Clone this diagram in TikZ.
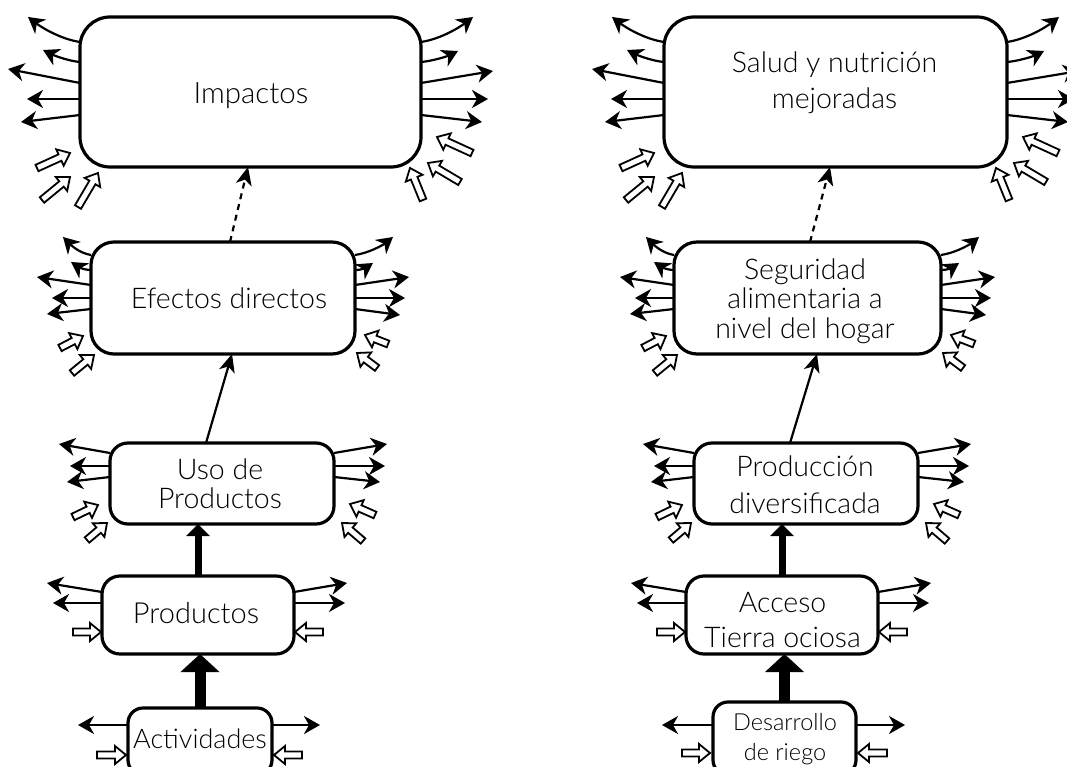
\documentclass[tikz,border=0pt]{standalone}
\usepackage{fontspec}
\setmainfont{Lato Light}
\usetikzlibrary{arrows.meta,calc}
\pgfdeclarelayer{bg}
\pgfsetlayers{bg,main}
\tikzset{
  box/.style={draw, line width=3.2pt, fill=white, inner sep=0pt, outer sep=0pt, rounded corners=#1},
  outa/.style={line width=2.2pt, -{Stealth[length=16pt,width=18pt,inset=5pt]}},
  holl/.style={draw, line width=1.8pt, fill=white, line join=miter},
  thickA/.style={line width=11pt, -{Triangle[length=18pt,width=38pt]}},
  thickB/.style={line width=7pt, -{Triangle[length=12pt,width=23pt]}},
  thinA/.style={line width=2.2pt, -{Stealth[length=18pt,width=16pt,inset=5pt]}},
  dashA/.style={thinA, dash pattern=on 6pt off 5pt},
  lbl/.style={inner sep=0pt, outer sep=0pt, align=center, text=black, text depth=0pt},
  fs/.style 2 args={font=\fontsize{#1}{#2}\selectfont},
}
\newcommand\oarr[3]{\draw[outa] ($(#1)+(#2)$) -- ++(#3);}
\newcommand\carr[5]{%
  \path ($(#1)+(#2)$) coordinate (cs) ++(#3) coordinate (ce);
  \draw[outa] (cs) .. controls ($(cs)+(#4)$) and ($(ce)+(#5)$) .. (ce);}
\newcommand\harr[3]{%
  \path ($(#1)+(#2)$) coordinate (hT) ($(#1)+(#3)$) coordinate (hH);
  \path ($(hH)!11pt!(hT)$) coordinate (hS);
  \draw[holl] ($(hT)!3.5pt!90:(hH)$) -- ($(hS)!3.5pt!-90:(hT)$) -- ($(hS)!9pt!-90:(hT)$) -- (hH)
     -- ($(hS)!9pt!90:(hT)$) -- ($(hS)!3.5pt!90:(hT)$) -- ($(hT)!3.5pt!-90:(hH)$) -- cycle;}
% decoration sets
\newcommand\decoBig[1]{%
  \carr{#1.north west}{0,25}{-52,-25}{-20,-3}{13,10}
  \carr{#1.north west}{0,45}{-37,-12}{-12,-1}{10,5}
  \oarr{#1.north west}{0,66}{-72,-14}
  \oarr{#1.north west}{0,82}{-53,0}
  \oarr{#1.north west}{0,98}{-59,7}
  \carr{#1.north east}{0,25}{52,-25}{20,-3}{-13,10}
  \carr{#1.north east}{0,45}{37,-11}{12,-1}{-10,5}
  \oarr{#1.north east}{0,66}{72,-12}
  \oarr{#1.north east}{0,82}{67,0}
  \oarr{#1.north east}{0,98}{61,7}
  \harr{#1.south west}{-43,1}{-10,-14}
  \harr{#1.south west}{-38,33}{-10,10}
  \harr{#1.south west}{-2,40}{18,6}
  \harr{#1.south east}{51,-14}{16,-30}
  \harr{#1.south east}{39,15}{7,-4}
  \harr{#1.south east}{2,33}{-11,1}}
\newcommand\decoMid[1]{%
  \carr{#1.north west}{0,13}{-28,-18}{-12,-2}{8,8}
  \carr{#1.north west}{0,28}{-20,-8}{-8,0}{6,4}
  \oarr{#1.north west}{0,43}{-54,-8}
  \oarr{#1.north west}{0,56}{-39,0}
  \oarr{#1.north west}{0,67}{-44,5}
  \carr{#1.north east}{0,13}{38,-18}{14,-2}{-10,8}
  \carr{#1.north east}{0,28}{18,-7}{8,0}{-6,4}
  \oarr{#1.north east}{0,43}{54,-8}
  \oarr{#1.north east}{0,56}{50,0}
  \oarr{#1.north east}{0,67}{45,6}
  \harr{#1.south west}{-31,-6}{-8,-18}
  \harr{#1.south west}{-19,19}{3,1}
  \harr{#1.south east}{33,-10}{10,-19}
  \harr{#1.south east}{22,14}{2,-1}}
\newcommand\decoUse[1]{%
  \oarr{#1.north west}{0,10}{-51,-9}
  \oarr{#1.north west}{0,23}{-40,0}
  \oarr{#1.north west}{0,34}{-43,5}
  \oarr{#1.north east}{0,10}{53,-9}
  \oarr{#1.north east}{0,23}{51,0}
  \oarr{#1.north east}{0,34}{46,5}
  \harr{#1.south west}{-37,-7}{-12,-19}
  \harr{#1.south west}{-23,16}{-3,-1}
  \harr{#1.south east}{41,-9}{16,-20}
  \harr{#1.south east}{29,17}{8,-1}}
\newcommand\decoProd[1]{%
  \oarr{#1.north west}{0,16}{-55,-9}
  \oarr{#1.north west}{0,27}{-49,0}
  \oarr{#1.north east}{0,16}{53,-9}
  \oarr{#1.north east}{0,27}{51,0}
  \harr{#1.north west}{-29,56}{-1,56}
  \harr{#1.north east}{29,56}{1,56}}
\begin{document}
\begin{tikzpicture}[x=1pt,y=-1pt]
\useasboundingbox (0,0) rectangle (1067,767);
\begin{pgfonlayer}{bg}
\fill[white] (0,0) rectangle (1067,767);
\end{pgfonlayer}
% boxes
\node[box=30, minimum width=341pt, minimum height=150pt] (imp) at (250.5,92) {};
\node[box=23, minimum width=264pt, minimum height=112pt] (efe) at (223,298) {};
\node[box=18, minimum width=224pt, minimum height=81pt] (uso) at (222,483.5) {};
\node[box=18, minimum width=192pt, minimum height=78pt] (pro) at (198,615) {};
\node[box=15, minimum width=144pt, minimum height=67pt] (act) at (200,741.5) {};
\node[box=30, minimum width=343pt, minimum height=150pt] (sal) at (835.5,92) {};
\node[box=23, minimum width=267pt, minimum height=112pt] (seg) at (807.5,298) {};
\node[box=18, minimum width=224pt, minimum height=81pt] (pdn) at (806,483.5) {};
\node[box=18, minimum width=192pt, minimum height=78pt] (acc) at (782,615) {};
\node[box=15, minimum width=143pt, minimum height=73pt] (des) at (784.5,738.5) {};
% labels (text height = cap height + (lines-1) x line spacing)
\node[lbl, fs={29.5}{30}, text height=21.1pt] (impT) at (251,93) {Impactos};
\node[lbl, fs={28.5}{30}, text height=20.4pt] (efeT) at (229,298) {Efectos directos};
\node[lbl, fs={28.5}{29}, text height=49.4pt] (usoT) at (220,483.5) {Uso de\\Productos};
\node[lbl, fs={29}{30}, text height=20.8pt] (proT) at (196,613) {Productos};
\node[lbl, fs={27}{30}, text height=19.3pt] (actT) at (200,739) {Actividades};
\node[lbl, fs={28.5}{36}, text height=56.4pt] (salT) at (834.5,80.5) {Salud y nutrición\\mejoradas};
\node[lbl, fs={28.5}{29.5}, text height=79.4pt] (segT) at (805,298.5) {Seguridad\\alimentaria a\\nivel del hogar};
\node[lbl, fs={28.5}{37}, text height=57.4pt] (pdnT) at (805,485) {Producción\\diversificada};
\node[lbl, fs={28.5}{35}, text height=55.4pt] (accT) at (782.5,620) {Acceso\\Tierra ociosa};
\node[lbl, fs={23.5}{29.5}, text height=46.3pt] (desT) at (785,737) {Desarrollo\\de riego};
% connectors and decorations
\begin{pgfonlayer}{bg}
\decoBig{imp}
\decoBig{sal}
\decoMid{efe}
\decoMid{seg}
\decoUse{uso}
\decoUse{pdn}
\decoProd{pro}
\decoProd{acc}
\oarr{act.north west}{0,17}{-50,0}
\oarr{act.north east}{0,17}{48,0}
\harr{act.north west}{-31,47}{-2,47}
\harr{act.north east}{30,47}{2,47}
\oarr{des.north west}{0,23}{-51,0}
\oarr{des.north east}{0,23}{49,0}
\harr{des.north west}{-31,51}{-3,51}
\harr{des.north east}{31,51}{2,51}
\draw[thickA] (act.north) -- (act.north |- pro.south);
\draw[thickB] (pro.north) -- (pro.north |- uso.south);
\draw[thinA] ([xshift=-16pt]uso.north) -- ([xshift=9pt]efe.south);
\draw[dashA] ([xshift=7pt]efe.north) -- ([xshift=-2.5pt]imp.south);
\draw[thickA] (des.north) -- (des.north |- acc.south);
\draw[thickB] (acc.north) -- (acc.north |- pdn.south);
\draw[thinA] ([xshift=-16pt]pdn.north) -- ([xshift=9.5pt]seg.south);
\draw[dashA] ([xshift=2.5pt]seg.north) -- ([xshift=-5.5pt]sal.south);
\end{pgfonlayer}
\end{tikzpicture}
\end{document}
